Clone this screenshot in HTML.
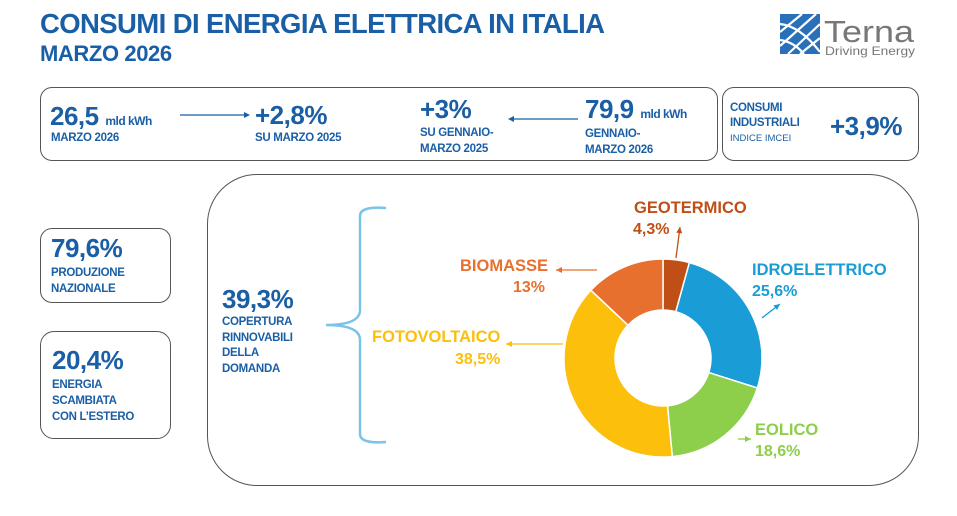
<!DOCTYPE html>
<html><head><meta charset="utf-8">
<style>
body{margin:0;width:957px;height:516px;background:#fff;font-family:"Liberation Sans",Arial,sans-serif;position:relative;overflow:hidden;color:#1a5fa6}
.a{position:absolute;white-space:nowrap;font-weight:bold}
.box{position:absolute;border:1px solid #555;box-sizing:border-box}
.s{font-size:11.5px;letter-spacing:-0.3px}
.n{font-size:26px;letter-spacing:-0.5px}
</style></head><body>
<div class="a" style="left:40px;top:8px;font-size:27.5px;letter-spacing:-0.6px">CONSUMI DI ENERGIA ELETTRICA IN ITALIA</div>
<div class="a" style="left:40px;top:41px;font-size:22px;letter-spacing:-0.4px">MARZO 2026</div>
<svg style="position:absolute;left:780px;top:12px" width="140" height="46">
<rect x="0" y="2" width="40" height="40" fill="#2a70b8"/>
<path d="M0 20 L22 2 M0 34 L36 2 M8 42 L40 12 M20 42 L40 26 M0 12 Q20 14 40 40 M0 28 Q14 30 24 42" stroke="#fff" stroke-width="2.2" fill="none"/>
<text x="44" y="30" font-size="31" fill="#777" font-family="Liberation Sans" textLength="90" lengthAdjust="spacingAndGlyphs">Terna</text>
<text x="45" y="43" font-size="12" fill="#777" font-family="Liberation Sans" textLength="90" lengthAdjust="spacingAndGlyphs">Driving Energy</text>
</svg>

<div class="box" style="left:40px;top:87px;width:678px;height:74px;border-radius:12px"></div>
<div class="a n" style="left:50px;top:101px">26,5 <span style="font-size:12px">mld kWh</span></div>
<div class="a s" style="left:51px;top:132px">MARZO 2026</div>
<svg style="position:absolute;left:180px;top:110px" width="70" height="10"><line x1="0" y1="5" x2="64" y2="5" stroke="#1a5fa6" stroke-width="1.2"/><path d="M64 2 L70 5 L64 8Z" fill="#1a5fa6"/></svg>
<div class="a n" style="left:255px;top:100px">+2,8%</div>
<div class="a s" style="left:255px;top:132px">SU MARZO 2025</div>
<div class="a n" style="left:420px;top:94px">+3%</div>
<div class="a s" style="left:420px;top:125px;line-height:16px">SU GENNAIO-<br>MARZO 2025</div>
<svg style="position:absolute;left:508px;top:114px" width="70" height="10"><line x1="6" y1="5" x2="70" y2="5" stroke="#1a5fa6" stroke-width="1.2"/><path d="M6 2 L0 5 L6 8Z" fill="#1a5fa6"/></svg>
<div class="a n" style="left:585px;top:94px">79,9 <span style="font-size:12px">mld kWh</span></div>
<div class="a s" style="left:585px;top:126px;line-height:16px">GENNAIO-<br>MARZO 2026</div>

<div class="box" style="left:722px;top:87px;width:197px;height:74px;border-radius:12px"></div>
<div class="a s" style="left:730px;top:101px;line-height:15px">CONSUMI<br>INDUSTRIALI</div>
<div class="a" style="left:730px;top:133px;font-size:9.5px;font-weight:normal">INDICE IMCEI</div>
<div class="a n" style="left:830px;top:111px">+3,9%</div>

<div class="box" style="left:40px;top:228px;width:131px;height:75px;border-radius:12px"></div>
<div class="a n" style="left:51px;top:233px">79,6%</div>
<div class="a s" style="left:51px;top:265px;line-height:16px">PRODUZIONE<br>NAZIONALE</div>
<div class="box" style="left:40px;top:331px;width:131px;height:108px;border-radius:14px"></div>
<div class="a n" style="left:52px;top:345px">20,4%</div>
<div class="a s" style="left:52px;top:377px;line-height:16px">ENERGIA<br>SCAMBIATA<br>CON L’ESTERO</div>

<div class="box" style="left:207px;top:174px;width:712px;height:312px;border-radius:50px"></div>
<div class="a n" style="left:222px;top:284px">39,3%</div>
<div class="a s" style="left:222px;top:315px;line-height:15.5px">COPERTURA<br>RINNOVABILI<br>DELLA<br>DOMANDA</div>
<svg style="position:absolute;left:320px;top:200px" width="70" height="250"><path d="M66 8 Q40 6 40 16 L40 110 Q40 125 6 125 Q40 125 40 140 L40 234 Q40 244 66 242" fill="none" stroke="#7bc4e8" stroke-width="2.5"/></svg>

<svg id="donut" style="position:absolute;left:0;top:0" width="957" height="516"></svg>
<script>
const labels=["GEOTERMICO","IDROELETTRICO","EOLICO","FOTOVOLTAICO","BIOMASSE"];
const values=[4.3,25.6,18.6,38.5,13];
const valueLabels=["4,3%","25,6%","18,6%","38,5%","13%"];
const colors=["#bf4f16","#1a9dd7","#8dcf4b","#fcbf0b","#e8702f"];
const svg=document.getElementById('donut');const NS="http://www.w3.org/2000/svg";
const cx=663,cy=358,R=99,r=48;
const total=values.reduce((a,b)=>a+b,0);
function pt(a,rad){return [cx+rad*Math.sin(a),cy-rad*Math.cos(a)];}
let acc=0;
values.forEach((v,i)=>{
 const a0=acc/total*2*Math.PI;acc+=v;const a1=acc/total*2*Math.PI;
 const lg=(a1-a0)>Math.PI?1:0;
 const [x0,y0]=pt(a0,R),[x1,y1]=pt(a1,R),[x2,y2]=pt(a1,r),[x3,y3]=pt(a0,r);
 const p=document.createElementNS(NS,'path');
 p.setAttribute('d',`M${x0} ${y0}A${R} ${R} 0 ${lg} 1 ${x1} ${y1}L${x2} ${y2}A${r} ${r} 0 ${lg} 0 ${x3} ${y3}Z`);
 p.setAttribute('fill',colors[i]);p.setAttribute('stroke','#fff');p.setAttribute('stroke-width','1.5');
 
 
 svg.appendChild(p);
});
// label layout (positions only)
const lay=[{tx:634,ty:213,vx:633,vy:234,s:[676,258],e:[680,227]},
 {tx:752,ty:275,vx:752,vy:296,s:[762,318],e:[780,304]},
 {tx:755,ty:435,vx:755,vy:456,s:[738,439],e:[751,439]},
 {tx:372,ty:342,vx:455,vy:364,s:[563,344],e:[506,344]},
 {tx:460,ty:271,vx:513,vy:292,s:[597,270],e:[556,270]}];
labels.forEach((l,i)=>{
 const o=lay[i];
 const [sx,sy]=o.s,[tx,ty]=o.e;
 const ln=document.createElementNS(NS,'path');
 ln.setAttribute('d',`M${sx} ${sy}L${tx} ${ty}`);
 ln.setAttribute('stroke',colors[i]);ln.setAttribute('stroke-width','1.3');ln.setAttribute('fill','none');
 
 
 svg.appendChild(ln);
 const ang=Math.atan2(ty-sy,tx-sx);
 const ah=document.createElementNS(NS,'path');
 const b1=[tx-6*Math.cos(ang)+3*Math.sin(ang),ty-6*Math.sin(ang)-3*Math.cos(ang)],b2=[tx-6*Math.cos(ang)-3*Math.sin(ang),ty-6*Math.sin(ang)+3*Math.cos(ang)];
 ah.setAttribute('d',`M${tx} ${ty}L${b1[0]} ${b1[1]}L${b2[0]} ${b2[1]}Z`);ah.setAttribute('fill',colors[i]);
 
 
 svg.appendChild(ah);
 const t=document.createElementNS(NS,'text');t.textContent=l;
 t.setAttribute('x',o.tx);t.setAttribute('y',o.ty);t.setAttribute('fill',colors[i]);
 t.setAttribute('font-size','16.5');t.setAttribute('font-weight','bold');t.setAttribute('font-family','Liberation Sans');
 
 
 svg.appendChild(t);
 const v=document.createElementNS(NS,'text');v.textContent=valueLabels[i];
 v.setAttribute('x',o.vx);v.setAttribute('y',o.vy);v.setAttribute('fill',colors[i]);
 v.setAttribute('font-size','16');v.setAttribute('font-weight','bold');v.setAttribute('font-family','Liberation Sans');
 
 
 svg.appendChild(v);
});
</script>
</body></html>
